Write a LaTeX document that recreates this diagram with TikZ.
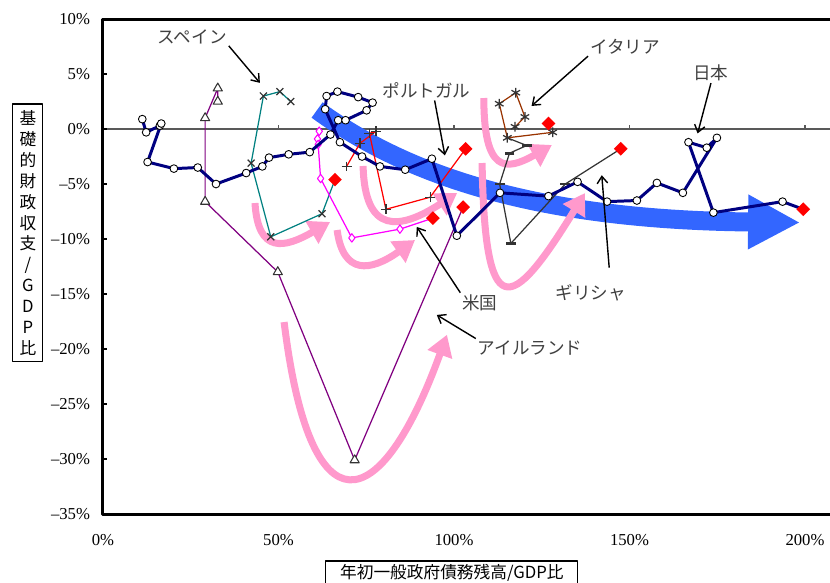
\documentclass[tikz,border=0pt]{standalone}
\usepackage{fontspec}
\setmainfont{Liberation Serif}
\newfontfamily\jp{Noto Sans CJK JP}
\usepackage{tikz}
\usetikzlibrary{arrows.meta,plotmarks,shapes.geometric}
\definecolor{jpnavy}{RGB}{0,0,128}
\definecolor{esteal}{RGB}{0,128,128}
\definecolor{iepurple}{RGB}{128,0,128}
\definecolor{usmag}{RGB}{255,0,255}
\definecolor{itbrown}{RGB}{153,51,0}
\definecolor{grgray}{RGB}{51,51,51}
\definecolor{mkgray}{RGB}{51,51,51}
\definecolor{bandblue}{RGB}{51,102,255}
\definecolor{trendpink}{RGB}{255,153,204}
\definecolor{labelgray}{RGB}{64,64,64}

\begin{document}
\begin{tikzpicture}[x=0.0702cm,y=0.22cm,line join=round,
    every node/.style={inner sep=1pt},
    num/.style={font=\fontsize{9.5}{11}\selectfont},
    callout/.style={font=\jp\fontsize{10}{12}\selectfont,text=labelgray},
    axtitle/.style={draw,line width=0.6pt,font=\jp\fontsize{9.5}{11.95}\selectfont,align=center},
    pointer/.style={line width=0.8pt,-{Straight Barb[length=4pt,width=6pt]}},
    trend/.style={trendpink,line width=4pt,-{Triangle[length=0.42cm,width=0.5cm]}},
    band/.style={bandblue,line width=0.38cm,-{Triangle[length=1.04cm,width=1.02cm]}},
    fcst/.style={diamond,fill=red,minimum size=0.28cm,inner sep=0pt},
    jpline/.style={jpnavy,line width=1.7pt,mark=*,mark size=2.2pt,mark options={fill=white,draw=black,line width=0.5pt}},
    esline/.style={esteal,line width=0.7pt,mark=x,mark size=2.8pt,mark options={draw=mkgray,line width=0.7pt}},
    ieline/.style={iepurple,line width=0.7pt,mark=triangle*,mark size=3pt,mark options={fill=white,draw=mkgray,line width=0.6pt}},
    usline/.style={usmag,line width=0.7pt,mark=diamond*,mark size=2.4pt,mark options={fill=white,draw=usmag,line width=0.6pt}},
    ptline/.style={red,line width=0.7pt,mark=+,mark size=2.8pt,mark options={draw=mkgray,line width=0.7pt}},
    itline/.style={itbrown,line width=0.7pt,mark=asterisk,mark size=2.8pt,mark options={draw=mkgray,line width=0.7pt}},
    grline/.style={grgray,line width=0.7pt,mark=-,mark size=2.8pt,mark options={draw=mkgray,line width=1.6pt}}]
\useasboundingbox (-29.34,11.73) rectangle (207.12,-41.27);

\draw[gray!70!black,line width=0.6pt] (0,0) -- (210,0);
\foreach \v in {50,100,150,200}
    \draw[gray!70!black,line width=0.6pt] (\v,0) -- (\v,0.4);
\foreach \v in {-35,-30,...,10}
    \draw[line width=0.6pt] (0,\v) -- (1.2,\v);
\draw[line width=1.7pt] (0,-35) rectangle (210,10);

\foreach \v in {0,5,10}
    \node[num,anchor=east] (ytp\v) at (-3.1,\v) {\v\%};
\foreach \v in {5,10,...,35}
    \node[num,anchor=east] (ytn\v) at (-3.1,-\v) {\textendash\v\%};
\foreach \v in {0,50,...,200}
    \node[num] (xt\v) at (\v,-37.4) {\v\%};

\node[axtitle,minimum width=0.6cm,minimum height=5.16cm] (ylab) at (-21.4,-9.45)
    {基\\礎\\的\\財\\政\\収\\支\\/\\G\\D\\P\\比};
\node[axtitle,minimum width=5.04cm,minimum height=0.48cm] (xlab) at (99.4,-40.36)
    {年初一般政府債務残高/GDP比};

\draw[band] (61.0,1.73) .. controls (90.3,-5.09) and (130.2,-8.27) .. (198.6,-8.5);

\draw[trend] (43.3,-6.73) .. controls (44.2,-11.45) and (51.9,-10.8) .. (64.7,-8.45);
\draw[trend] (66.7,-9.18) .. controls (68.4,-13.27) and (76.1,-13.0) .. (88.9,-10.09);
\draw[trend] (51.6,-17.55) .. controls (59.0,-36.9) and (78.9,-35.5) .. (98.0,-18.7);
\draw[trend] (74.1,-3.36) .. controls (74.6,-9.64) and (84.6,-9.18) .. (100.9,-5.82);
\draw[trend] (108.0,-3.09) .. controls (108.8,-17.8) and (116.0,-16.9) .. (137.3,-5.82);
\draw[trend] (108.5,2.82) .. controls (108.5,-3.91) and (114.5,-3.91) .. (127.9,-1.45);

\coordinate (jpF) at (199.5,-7.3);
\coordinate (esF) at (66.1,-4.6);
\coordinate (ieF) at (102.6,-7.1);
\coordinate (usF) at (94.0,-8.1);
\coordinate (ptF) at (103.3,-1.8);
\coordinate (itF) at (126.9,0.5);
\coordinate (grF) at (147.5,-1.8);

\draw[ieline] plot coordinates {(32.7,2.5) (32.7,3.7) (29.1,1.0) (29.1,-6.6) (49.8,-13.0) (71.7,-30.1)} -- (ieF);
\draw[esline] plot coordinates {(53.5,2.5) (50.4,3.4) (45.7,3.0) (42.2,-3.1) (47.8,-9.8) (62.4,-7.7)} -- (esF);
\draw[usline] plot coordinates {(61.6,-0.2) (61.1,-0.9) (61.3,-1.4) (62.0,-4.5) (70.9,-9.9) (84.6,-9.1)} -- (usF);
\draw[ptline] plot coordinates {(69.4,-3.4) (73.2,-1.3) (77.8,-0.2) (75.9,-0.4) (80.6,-7.3) (93.2,-6.2)} -- (ptF);
\draw[grline] (115.2,-0.8) -- plot coordinates {(120.7,-1.5) (115.8,-2.2) (113.0,-5.0) (116.2,-10.4) (131.7,-5.0)} -- (grF);
\draw[itline] plot coordinates {(117.4,0.2) (120.2,1.1) (117.6,3.3) (112.9,2.3) (115.2,-0.8) (128.1,-0.3)};
\draw[jpline] plot coordinates {(11.2,0.9) (12.3,-0.3) (16.2,0.3) (16.6,0.5) (12.7,-3.0)
    (20.2,-3.6) (27.0,-3.5) (32.2,-5.0) (40.8,-4.0) (45.4,-3.4) (47.3,-2.6) (52.9,-2.3)
    (58.9,-2.1) (64.8,-0.5) (67.0,0.8) (69.1,0.8) (75.1,1.7) (76.8,2.4) (72.7,2.9)
    (66.8,3.4) (63.7,3.0) (63.3,1.8) (67.5,-1.2) (73.8,-2.5) (78.9,-3.4) (86.1,-3.7)
    (93.7,-2.7) (100.8,-9.7) (113.1,-5.8) (126.9,-6.1) (135.2,-4.8) (143.6,-6.6)
    (152.1,-6.5) (157.8,-4.9) (165.2,-5.8) (174.9,-0.8) (172.0,-1.7) (166.8,-1.2)
    (173.9,-7.6) (193.6,-6.6)} -- (jpF);

\foreach \c in {jpF,esF,ieF,usF,ptF,itF,grF}
    \node[fcst] (\c m) at (\c) {};

\node[callout] (spain) at (25.4,8.4) {スペイン};
\node[callout] (portugal) at (92.2,3.5) {ポルトガル};
\node[callout] (italy) at (148.7,7.5) {イタリア};
\node[callout] (japan) at (173.2,5.1) {日本};
\node[callout] (usa) at (107.4,-15.8) {米国};
\node[callout] (ireland) at (121.7,-19.9) {アイルランド};
\node[callout] (greece) at (139.0,-14.9) {ギリシャ};
\coordinate (spainTip) at (44.7,4.2);
\coordinate (portugalTip) at (97.4,-2.4);
\coordinate (italyTip) at (122.1,2.1);
\coordinate (japanTip) at (169.4,-0.4);
\coordinate (usaTip) at (89.4,-8.9);
\coordinate (irelandTip) at (95.1,-16.9);
\coordinate (greeceTip) at (142.1,-4.2);
\draw[pointer] (spain.south east) -- (spainTip);
\draw[pointer] ([xshift=0.16cm]portugal.south) -- (portugalTip);
\draw[pointer] (italy.south west) -- (italyTip);
\draw[pointer] (japan.south) -- (japanTip);
\draw[pointer] (usa.north west) -- (usaTip);
\draw[pointer] (ireland.north west) -- (irelandTip);
\draw[pointer,shorten <=0.3cm] ([xshift=0.39cm]greece.north) -- (greeceTip);
\end{tikzpicture}
\end{document}
